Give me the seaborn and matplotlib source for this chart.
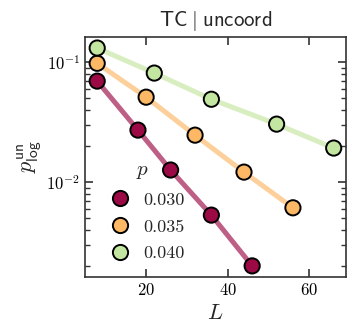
import pandas as pd
import matplotlib
matplotlib.use("Agg")
import matplotlib.pyplot as plt
import seaborn as sns

# --- data ---
p_030_L = [8, 18, 26, 36, 46]
p_030_val = [0.0694, 0.0271, 0.0126, 0.0053, 0.0020]
p_035_L = [8, 20, 32, 44, 56]
p_035_val = [0.0977, 0.051, 0.0246, 0.0121, 0.0061]
p_040_L = [8, 22, 36, 52, 66]
p_040_val = [0.131, 0.081, 0.049, 0.0304, 0.0192]
p_labels = ["0.030", "0.035", "0.040"]
colors = ["#9b0a45", "#fdb866", "#c3e6a1"]

rows = []
for lab, Ls, vals in zip(p_labels, [p_030_L, p_035_L, p_040_L], [p_030_val, p_035_val, p_040_val]):
    for L, v in zip(Ls, vals):
        rows.append({"L": L, "p_log": v, "p": lab})
df = pd.DataFrame(rows)

sns.set_style("ticks")
plt.rcParams["font.family"] = ["cmr10", "DejaVu Serif"]
plt.rcParams["mathtext.fontset"] = "cm"
plt.rcParams["axes.formatter.use_mathtext"] = True

fig = plt.figure(figsize=(3.57, 3.36), dpi=100)
ax = fig.add_axes([0.238, 0.176, 0.731, 0.714])

palette = dict(zip(p_labels, colors))
sns.lineplot(data=df, x="L", y="p_log", hue="p", palette=palette, lw=3.6, alpha=0.65,
             legend=False, ax=ax, zorder=1)
sns.scatterplot(data=df, x="L", y="p_log", hue="p", palette=palette, s=120,
                edgecolor="black", linewidth=1.4, ax=ax, zorder=3)

ax.set_yscale("log")
ax.set_xlim(5, 69)
ax.set_ylim(0.00162, 0.162)
ax.set_xticks([20, 40, 60])
ax.set_xlabel("$L$", fontsize=16)
ax.set_ylabel(r"$p_{\mathsf{log}}^{\mathsf{un}}$", fontsize=16, labelpad=2)
ax.set_title(r"$\mathsf{TC}\;|\;\mathsf{uncoord}$", fontsize=15, pad=8)

for s in ax.spines.values():
    s.set_color("#333333")
    s.set_linewidth(1.2)
ax.tick_params(which="both", direction="in", top=True, right=True, colors="#333333",
               labelcolor="black", labelsize=12)
ax.tick_params(which="major", length=6, width=1.2)
ax.tick_params(which="minor", length=3.5, width=1.0)

leg = ax.legend(title="$p$", loc="lower left", frameon=False, fontsize=13,
                title_fontsize=15, handletextpad=0.3, labelspacing=0.62,
                borderaxespad=0.3, bbox_to_anchor=(0.015, 0.012), markerscale=1.0)
for h in leg.legend_handles:
    h.set_markeredgecolor("black")
    h.set_markeredgewidth(1.4)

fig.savefig("out.png", dpi=100)
